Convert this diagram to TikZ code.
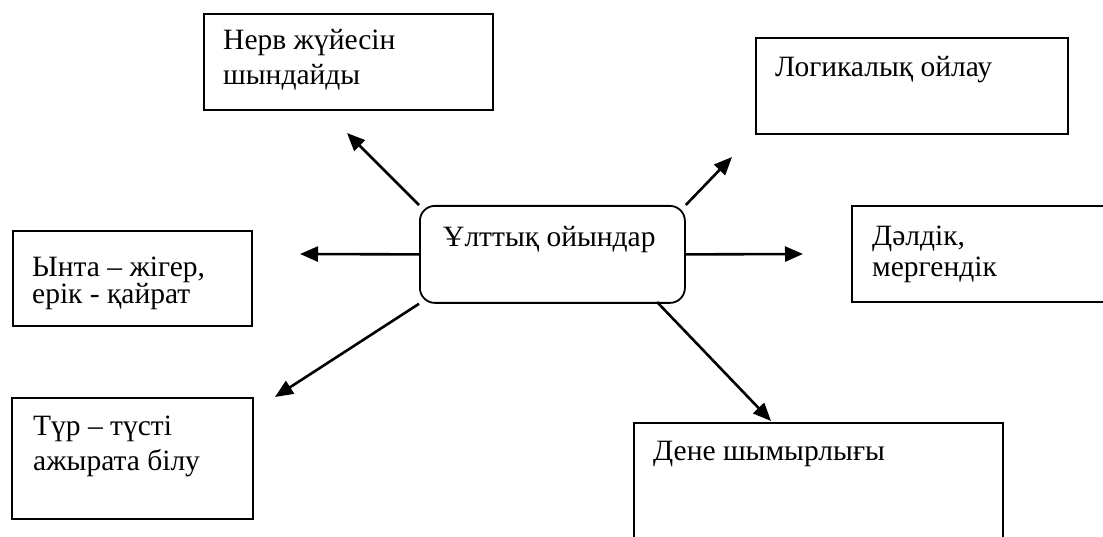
\documentclass[tikz,border=0pt]{standalone}
\usepackage{fontspec}
\setmainfont{Liberation Serif}
\usetikzlibrary{arrows.meta}
\begin{document}
\begin{tikzpicture}[x=1pt,y=-1pt,
  box/.style={draw, line width=1.8pt, rectangle, inner sep=0pt, anchor=north west},
  cbox/.style={box, rounded corners=15pt},
  txt/.style={anchor=base west, inner sep=0pt, align=left, font=\fontsize{29.5}{35}\selectfont},
  arr/.style={line width=2.6pt, -{Triangle[length=18pt,width=15pt]}}]
\useasboundingbox (0,0) rectangle (1103,537);
\clip (0,0) rectangle (1103,537);
% boxes
\node[box, minimum width=289pt, minimum height=96pt] (n1) at (203,13) {};
\node[box, minimum width=312pt, minimum height=96pt] (n2) at (755,37) {};
\node[cbox, minimum width=265pt, minimum height=97pt] (c) at (419,205) {};
\node[box, minimum width=239pt, minimum height=95pt] (n3) at (12,230) {};
\node[box, minimum width=280pt, minimum height=96pt] (n4) at (851,205) {};
\node[box, minimum width=241pt, minimum height=121pt] (n5) at (11,397) {};
\node[box, minimum width=369pt, minimum height=140pt] (n6) at (633,422) {};
% texts (base = last line)
\node[txt, font=\fontsize{29.5}{35}\selectfont] (l1) at (223,85) {Нерв жүйесін\\шындайды};
\node[txt] (l2) at (775,77) {Логикалық ойлау};
\node[txt] (lc) at (443,247) {Ұлттық ойындар};
\node[txt, font=\fontsize{29.5}{27}\selectfont] (l3) at (32,304) {Ынта – жігер,\\ерік - қайрат};
\node[txt, font=\fontsize{29.5}{32}\selectfont] (l4) at (872,277) {Дәлдік,\\мергендік};
\node[txt, font=\fontsize{29.5}{35}\selectfont] (l5) at (33,470) {Түр – түсті\\ажырата білу};
\node[txt] (l6) at (653,460) {Дене шымырлығы};
% arrow ends
\coordinate (t1) at (347,133);
\coordinate (t2) at (732,157);
\coordinate (t3) at (300,254);
\coordinate (t4) at (803,254);
\coordinate (t5) at (275,397);
\coordinate (t6) at (771,421);
\coordinate (s6) at (657,302);
\draw[arr] (c.north west) -- (t1);
\draw[arr] (c.north east) -- (t2);
\draw[arr] (c.west) -- (t3);
\draw[arr] (c.east) -- (t4);
\draw[arr] (c.south west) -- (t5);
\draw[arr] (s6) -- (t6);
\end{tikzpicture}
\end{document}
